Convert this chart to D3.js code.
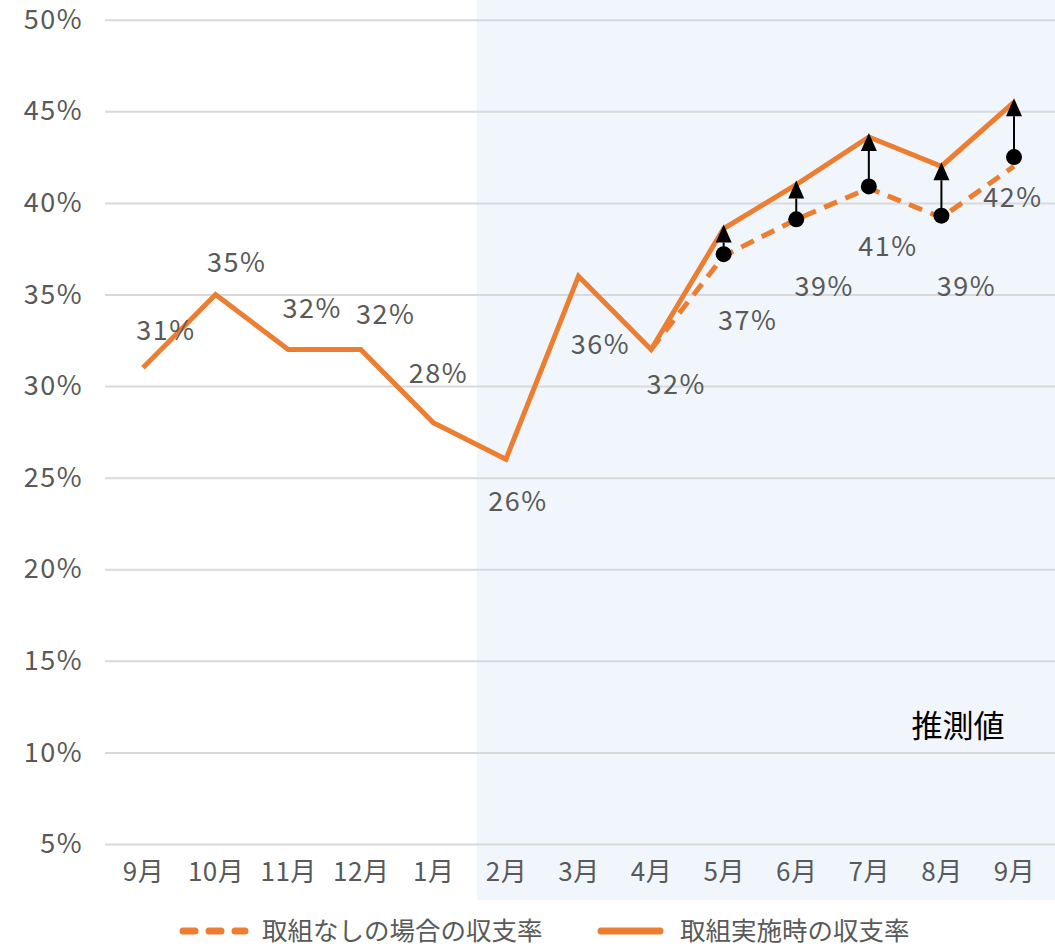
<!DOCTYPE html>
<html>
<head>
<meta charset="utf-8">
<script src="https://cdn.jsdelivr.net/npm/d3@7"></script>
<style>
  body { margin: 0; background: #fff; }
  text { font-family: "Noto Sans CJK JP", "Noto Sans", sans-serif; }
</style>
</head>
<body>
<div id="chart"></div>
<script>
// categories (two different 9月, so the scale works on index)
const months = ["9月", "10月", "11月", "12月", "1月", "2月", "3月", "4月", "5月", "6月", "7月", "8月", "9月"]
const yTicks = [5, 10, 15, 20, 25, 30, 35, 40, 45, 50]

// 取組実施時の収支率 (solid)
const withAction = [31, 35, 32, 32, 28, 26, 36, 32, 38.6, 41, 43.6, 42, 45.5]
// 取組なしの場合の収支率 (dashed), from 4月
const withoutStart = 7
const withoutAction = [32, 37.1, 39.1, 40.8, 39.2, 42]
// dots the arrows start from (5月 .. 9月)
const dotStart = 8
const dotValues = [37.2, 39.1, 40.9, 39.3, 42.5]

// data labels shown on the chart
const labelText = ["31%", "35%", "32%", "32%", "28%", "26%", "36%", "32%", "37%", "39%", "41%", "39%", "42%"]
// where each label sits relative to its point (layout only)
const labelOffsets = [[23, -28], [21, -22], [24, -31], [25, -25], [5, -40], [12, 52], [22, 78], [25, 45], [24, 76], [28, 77], [19, 70], [25, 80], [-1, 50]]

const legendNames = ["取組なしの場合の収支率", "取組実施時の収支率"]

const width = 1055, height = 946
const orange = "#ED7D31"
const grey = "#595959"

const svg = d3.select("#chart").append("svg")
  .attr("width", width)
  .attr("height", height)

const x = d3.scalePoint()
  .domain(d3.range(months.length))
  .range([143, 1014])

const y = d3.scaleLinear()
  .domain([5, 50])
  .range([844, 19.7])

// forecast background
svg.append("rect")
  .attr("x", x(5) - 29)
  .attr("y", 0)
  .attr("width", width - (x(5) - 29))
  .attr("height", 900)
  .attr("fill", "#F1F6FC")

// y axis with gridlines
const yAxis = svg.append("g")
  .attr("transform", "translate(105,0)")
  .call(d3.axisLeft(y).tickValues(yTicks).tickSize(-(width - 105)).tickPadding(22).tickFormat(d => d + "%"))
yAxis.select(".domain").remove()
yAxis.selectAll(".tick line").attr("stroke", "#D9D9D9").attr("stroke-width", 2)
yAxis.selectAll(".tick text")
  .attr("fill", grey)
  .style("font-size", "27px")
  .style("letter-spacing", "1.5px")

// x axis
const xAxis = svg.append("g")
  .attr("transform", "translate(0,861)")
  .call(d3.axisBottom(x).tickSize(0).tickPadding(0).tickFormat(i => months[i]))
xAxis.select(".domain").remove()
xAxis.selectAll(".tick text")
  .attr("fill", grey)
  .attr("dy", "0.75em")
  .style("font-size", "26px")
  .style("letter-spacing", "0.5px")

const line = d3.line()
  .x(d => x(d.i))
  .y(d => y(d.v))

// dashed series
svg.append("path")
  .datum(withoutAction.map((v, k) => ({ i: withoutStart + k, v: v })))
  .attr("d", line)
  .attr("fill", "none")
  .attr("stroke", orange)
  .attr("stroke-width", 5)
  .attr("stroke-dasharray", "14,9")

// solid series
svg.append("path")
  .datum(withAction.map((v, i) => ({ i: i, v: v })))
  .attr("d", line)
  .attr("fill", "none")
  .attr("stroke", orange)
  .attr("stroke-width", 5)
  .attr("stroke-linejoin", "miter")

// arrows
const dots = dotValues.map((v, k) => ({ i: dotStart + k, v: v, to: withAction[dotStart + k] }))

svg.selectAll(".arrow")
  .data(dots)
  .enter()
  .append("line")
  .attr("x1", d => x(d.i))
  .attr("x2", d => x(d.i))
  .attr("y1", d => y(d.v))
  .attr("y2", d => y(d.to) + 14)
  .attr("stroke", "#000")
  .attr("stroke-width", 2)

svg.selectAll(".head")
  .data(dots)
  .enter()
  .append("path")
  .attr("d", d => {
    const cx = x(d.i), ty = y(d.to) - 4
    return "M" + (cx - 8) + "," + (ty + 18) + " L" + cx + "," + ty + " L" + (cx + 8) + "," + (ty + 18) + " Z"
  })
  .attr("fill", "#000")

svg.selectAll(".dot")
  .data(dots)
  .enter()
  .append("circle")
  .attr("cx", d => x(d.i))
  .attr("cy", d => y(d.v))
  .attr("r", 8)
  .attr("fill", "#000")

// data labels
const labelPoints = months.map((m, i) => {
  if (i < dotStart) return { i: i, v: withAction[i] }
  return { i: i, v: dotValues[i - dotStart] }
})

svg.selectAll(".label")
  .data(labelPoints)
  .enter()
  .append("text")
  .attr("x", (d, k) => x(d.i) + labelOffsets[k][0])
  .attr("y", (d, k) => y(d.v) + labelOffsets[k][1])
  .attr("text-anchor", "middle")
  .attr("fill", grey)
  .style("font-size", "27px")
  .style("letter-spacing", "1.5px")
  .text((d, k) => labelText[k])

// forecast note
svg.append("text")
  .attr("x", 958)
  .attr("y", 737)
  .attr("text-anchor", "middle")
  .attr("fill", "#000")
  .style("font-size", "31px")
  .text("推測値")

// legend
const legend = svg.append("g").attr("transform", "translate(0,931)")
legend.append("line")
  .attr("x1", 183).attr("x2", 245)
  .attr("stroke", orange).attr("stroke-width", 7)
  .attr("stroke-dasharray", "12,14")
  .attr("stroke-linecap", "round")
legend.append("text")
  .attr("x", 262).attr("dy", "0.35em")
  .attr("fill", grey).style("font-size", "25.5px")
  .text(legendNames[0])
legend.append("line")
  .attr("x1", 601).attr("x2", 660)
  .attr("stroke", orange).attr("stroke-width", 7)
  .attr("stroke-linecap", "round")
legend.append("text")
  .attr("x", 680).attr("dy", "0.35em")
  .attr("fill", grey).style("font-size", "25.5px")
  .text(legendNames[1])
</script>
</body>
</html>
